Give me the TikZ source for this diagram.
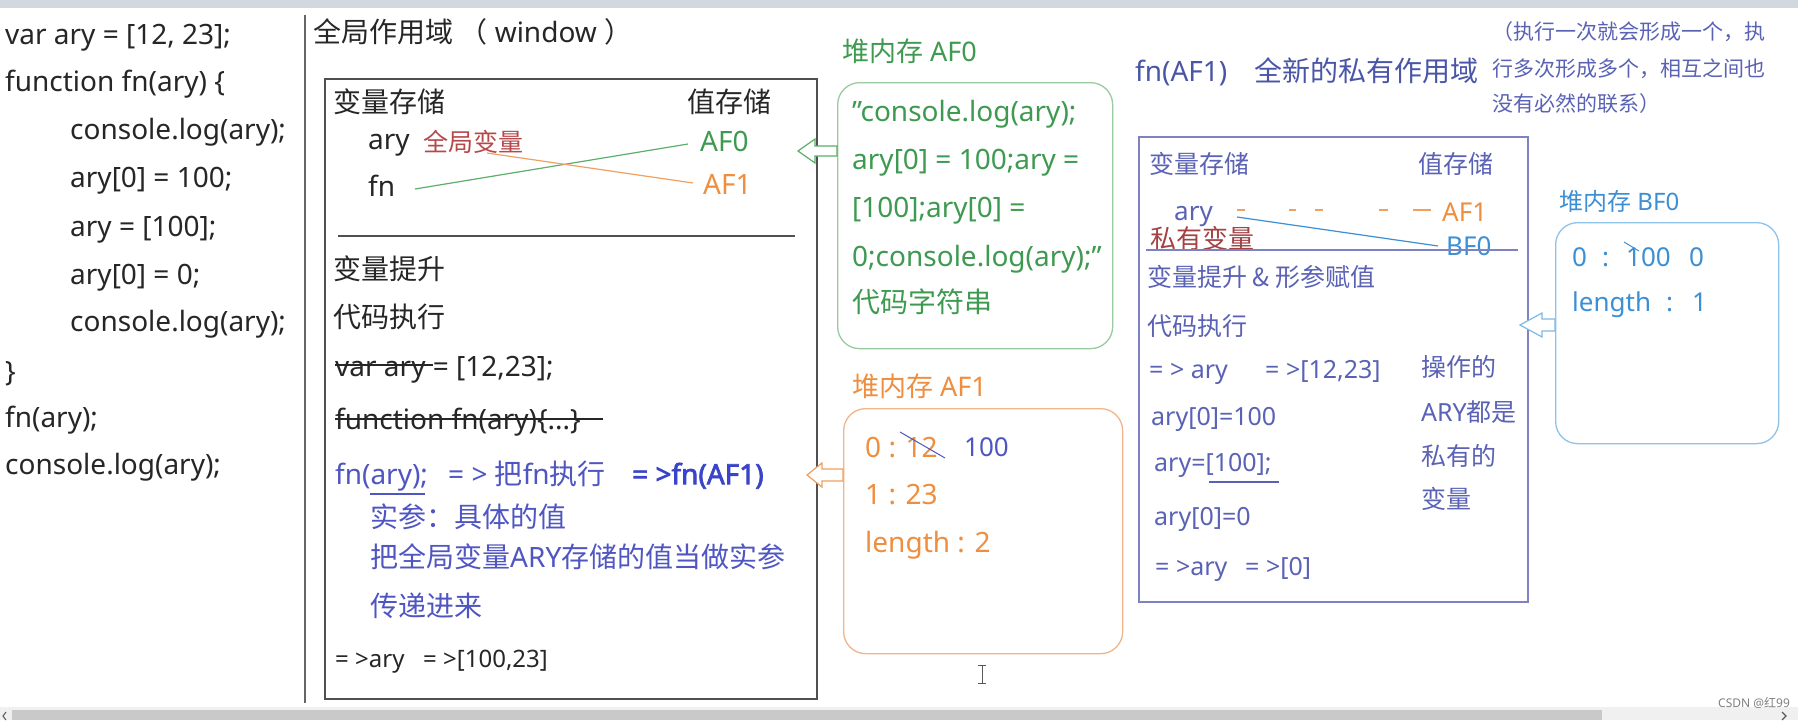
\documentclass[tikz,border=0pt]{standalone}
\usepackage{fontspec}
\setmainfont{Noto Sans}
\newfontfamily\cjkfont{Noto Sans CJK SC}
\newfontfamily\fboldfont[FakeBold=2.5]{Noto Sans}
\newcommand\zh[1]{{\cjkfont #1}}
\definecolor{txtblack}{HTML}{262626}
\definecolor{gborder}{HTML}{505050}
\definecolor{redlabel}{HTML}{B5484A}
\definecolor{greentxt}{HTML}{3E9A50}
\definecolor{greenline}{HTML}{5DAE6B}
\definecolor{greenborder}{HTML}{9ACB9F}
\definecolor{orangetxt}{HTML}{EE8E3E}
\definecolor{orangeline}{HTML}{F0A060}
\definecolor{orangeborder}{HTML}{F2B48A}
\definecolor{bluetxt}{HTML}{4F56C2}
\definecolor{boldblue}{HTML}{3A44C8}
\definecolor{privblue}{HTML}{5A62B5}
\definecolor{privborder}{HTML}{7E82C2}
\definecolor{headblue}{HTML}{4A55A8}
\definecolor{lightblue}{HTML}{3C8FD4}
\definecolor{lbborder}{HTML}{8FC3EA}
\definecolor{topbar}{HTML}{D3D7DF}
\begin{document}
\begin{tikzpicture}[x=1pt,y=-1pt,
  tx/.style={font=\fontsize{#1}{#1}\selectfont,anchor=west,inner sep=0pt,text height=0.83*#1pt,text depth=0.17*#1pt},
  tx/.default=28,
  boxline/.style={draw,inner sep=0pt,anchor=north west},
  hollow/.style={line width=1.2pt,fill=white},
  strike/.style={txtblack,line width=1.2pt}]
\useasboundingbox (0,0) rectangle (1798,720);
\fill[white] (0,0) rectangle (1798,720);
\fill[topbar] (0,0) rectangle (1798,8);

% left code
\begin{scope}[txtblack]
\node[tx] (c1) at (5,35) {var ary = [12, 23];};
\node[tx] (c2) at (5,82) {function fn(ary) \{};
\node[tx] (c3) at (70,130) {console.log(ary);};
\node[tx] (c4) at (70,178) {ary[0] = 100;};
\node[tx] (c5) at (70,227) {ary = [100];};
\node[tx] (c6) at (70,275) {ary[0] = 0;};
\node[tx] (c7) at (70,322) {console.log(ary);};
\node[tx] (c8) at (5,372) {\}};
\node[tx] (c9) at (5,418) {fn(ary);};
\node[tx] (c10) at (5,465) {console.log(ary);};
\end{scope}

\coordinate (divT) at (305,15);
\coordinate (divB) at (305,703);
\draw[gray!80!black,line width=1.6pt] (divT) -- (divB);

% global scope
\node[tx,txtblack] (gtitle) at (313,33) {\zh{全局作用域 （} window \zh{）}};
\node[boxline,draw=gborder,line width=1.8pt,minimum width=492pt,minimum height=620pt] (gbox) at (324,78) {};
\node[tx,txtblack] (gvar) at (333,103) {\zh{变量存储}};
\node[tx,txtblack] (gval) at (687,103) {\zh{值存储}};
\node[tx,txtblack] (gary) at (368,140) {ary};
\node[tx=25,redlabel] (gglob) at (423,143) {\zh{全局变量}};
\node[tx,txtblack] (gfn) at (368,187) {fn};
\node[tx,greentxt] (gaf0) at (700,142) {AF0};
\node[tx,orangetxt] (gaf1) at (703,185) {AF1};
\coordinate (fnR) at (415,189);
\coordinate (af0L) at (688,144);
\coordinate (aryR) at (487,153);
\coordinate (af1L) at (693,183);
\draw[greenline,line width=1.2pt] (fnR) -- (af0L);
\draw[orangeline,line width=1.2pt] (aryR) -- (af1L);
\coordinate (sepL) at (338,236);
\coordinate (sepR) at (795,236);
\draw[gborder,line width=1.1pt] (sepL) -- (sepR);
\node[tx,txtblack] (ghoist) at (333,270) {\zh{变量提升}};
\node[tx,txtblack] (gexec) at (333,318) {\zh{代码执行}};
\node[tx,txtblack] (gl1) at (335,367) {var ary = [12,23];};
\coordinate (s1a) at (335,365); \coordinate (s1b) at (433,365);
\draw[strike] (s1a) -- (s1b);
\node[tx,txtblack] (gl2) at (335,420) {function fn(ary)\{...\}};
\coordinate (s2a) at (335,419); \coordinate (s2b) at (603,419);
\draw[strike] (s2a) -- (s2b);
\node[tx,bluetxt] (gl3) at (335,475) {fn(ary);};
\coordinate (u1a) at (370,494); \coordinate (u1b) at (425,494);
\draw[bluetxt,line width=1.3pt] (u1a) -- (u1b);
\node[tx,bluetxt] (gl3b) at (448,475) {= > \zh{把}fn\zh{执行}};
\node[tx,boldblue,font=\fontsize{28}{28}\fboldfont] (gl3c) at (632,475) {= >fn(AF1)};
\node[tx,bluetxt] (gl4) at (370,518) {\zh{实参：具体的值}};
\node[tx,bluetxt] (gl5) at (370,558) {\zh{把全局变量}ARY\zh{存储的值当做实参}};
\node[tx,bluetxt] (gl6) at (370,607) {\zh{传递进来}};
\node[tx=24,txtblack] (gl7) at (335,660) {= >ary \ \ = >[100,23]};

% heap AF0
\node[tx=27,greentxt] (h0title) at (842,53) {\zh{堆内存} AF0};
\node[boxline,draw=greenborder,line width=1.3pt,rounded corners=22pt,minimum width=275pt,minimum height=266pt] (af0box) at (837,82) {};
\node[tx,greentxt] (h0l1) at (852,112) {"console.log(ary);};
\node[tx,greentxt] (h0l2) at (852,160) {ary[0] = 100;ary =};
\node[tx,greentxt] (h0l3) at (852,208) {[100];ary[0] =};
\node[tx,greentxt] (h0l4) at (852,257) {0;console.log(ary);"};
\node[tx,greentxt] (h0l5) at (852,303) {\zh{代码字符串}};
\draw[greenline,hollow] (798,151) -- (815,139) -- (815,146) -- (837,146) -- (837,156) -- (815,156) -- (815,163) -- cycle;

% heap AF1
\node[tx=27,orangetxt] (h1title) at (852,388) {\zh{堆内存} AF1};
\node[boxline,draw=orangeborder,line width=1.3pt,rounded corners=22pt,minimum width=279pt,minimum height=245pt] (af1box) at (843,408) {};
\node[tx,orangetxt] (h1l1) at (865,448) {0 : 12};
\coordinate (s3a) at (900,432); \coordinate (s3b) at (945,458);
\draw[bluetxt,line width=1pt] (s3a) -- (s3b);
\node[tx=26,bluetxt] (h1new) at (964,448) {100};
\node[tx,orangetxt] (h1l2) at (865,495) {1 : 23};
\node[tx,orangetxt] (h1l3) at (865,543) {length : 2};
\draw[orangeline,hollow] (807,475) -- (822,463) -- (822,469) -- (843,469) -- (843,481) -- (822,481) -- (822,487) -- cycle;

% cursor
\draw[gray!70!black,line width=1pt] (978,665) -- (986,665) (982,665) -- (982,683) (978,683) -- (986,683);

% private scope
\node[tx,headblue] (ptitle) at (1135,72) {fn(AF1)};
\node[tx,headblue] (ptitle2) at (1254,72) {\zh{全新的私有作用域}};
\node[tx=21,privblue] (pnote1) at (1492,33) {\zh{（执行一次就会形成一个，执}};
\node[tx=21,privblue] (pnote2) at (1492,70) {\zh{行多次形成多个，相互之间也}};
\node[tx=21,privblue] (pnote3) at (1492,105) {\zh{没有必然的联系）}};
\node[boxline,draw=privborder,line width=1.5pt,minimum width=389pt,minimum height=465pt] (pbox) at (1138,136) {};
\node[tx=25,privblue] (pvar) at (1149,165) {\zh{变量存储}};
\node[tx=25,privblue] (pval) at (1418,165) {\zh{值存储}};
\node[tx=26,privblue] (pary) at (1174,212) {ary};
\node[tx=26,orangetxt] (paf1) at (1442,213) {AF1};
\node[tx=26,lightblue] (pbf0) at (1446,247) {BF0};
\begin{scope}[orangeline,line width=1.2pt]
\coordinate (pd1a) at (1237,210); \coordinate (pd1b) at (1245,210);
\coordinate (pd2a) at (1289,210); \coordinate (pd2b) at (1296,210);
\coordinate (pd3a) at (1315,210); \coordinate (pd3b) at (1323,210);
\coordinate (pd4a) at (1379,210); \coordinate (pd4b) at (1388,210);
\coordinate (pd5a) at (1413,210); \coordinate (pd5b) at (1431,210);
\draw (pd1a) -- (pd1b) (pd2a) -- (pd2b) (pd3a) -- (pd3b) (pd4a) -- (pd4b) (pd5a) -- (pd5b);
\end{scope}
\coordinate (plA) at (1237,217); \coordinate (plB) at (1438,246);
\draw[lightblue,line width=1.2pt] (plA) -- (plB);
\node[tx=26,redlabel!90!black] (ppriv) at (1150,240) {\zh{私有变量}};
\coordinate (puA) at (1146,250); \coordinate (puB) at (1518,250);
\draw[privborder,line width=1.3pt] (puA) -- (puB);
\node[tx=25,privblue] (phoist) at (1147,278) {\zh{变量提升 \& 形参赋值}};
\node[tx=25,privblue] (pexec) at (1147,327) {\zh{代码执行}};
\node[tx=25,privblue] (pe1) at (1149,370) {= > ary};
\node[tx=25,privblue] (pe1b) at (1265,370) {= >[12,23]};
\node[tx=25,privblue] (pe2) at (1151,417) {ary[0]=100};
\node[tx=25,privblue] (pe3) at (1154,463) {ary=[100];};
\coordinate (pu2A) at (1209,482); \coordinate (pu2B) at (1279,482);
\draw[privblue,line width=1.2pt] (pu2A) -- (pu2B);
\node[tx=25,privblue] (pe4) at (1154,517) {ary[0]=0};
\node[tx=25,privblue] (pe5) at (1155,567) {= >ary};
\node[tx=25,privblue] (pe5b) at (1245,567) {= >[0]};
\node[tx=25,privblue] (pr1) at (1421,368) {\zh{操作的}};
\node[tx=25,privblue] (pr2) at (1421,413) {ARY\zh{都是}};
\node[tx=25,privblue] (pr3) at (1421,457) {\zh{私有的}};
\node[tx=25,privblue] (pr4) at (1421,500) {\zh{变量}};

% heap BF0
\node[tx=24,lightblue] (h2title) at (1559,203) {\zh{堆内存} BF0};
\node[boxline,draw=lbborder,line width=1.3pt,rounded corners=22pt,minimum width=223pt,minimum height=221pt] (bf0box) at (1555,222) {};
\node[tx=26,lightblue] (b1a) at (1572,258) {0};
\node[tx=26,lightblue] (b1b) at (1602,258) {:};
\node[tx=26,lightblue] (b1c) at (1626,258) {100};
\node[tx=26,lightblue] (b1d) at (1689,258) {0};
\coordinate (s4a) at (1624,242); \coordinate (s4b) at (1639,251);
\draw[lightblue,line width=1pt] (s4a) -- (s4b);
\node[tx=26,lightblue] (b2a) at (1572,303) {length};
\node[tx=26,lightblue] (b2b) at (1666,303) {:};
\node[tx=26,lightblue] (b2c) at (1692,303) {1};
\draw[lbborder!80!lightblue,hollow] (1520,325) -- (1542,313) -- (1542,319) -- (1555,319) -- (1555,331) -- (1542,331) -- (1542,337) -- cycle;

% scrollbar
\fill[gray!12] (0,707) rectangle (1798,720);
\fill[gray!42] (12,710) rectangle (1602,720);
\draw[gray!70!black,line width=1pt] (6,712) -- (3,716) -- (6,720);
\draw[gray!70!black,line width=1.2pt] (1782,712) -- (1786,716) -- (1782,720);
\node[tx=12,gray] (wm) at (1718,704) {CSDN @\zh{红}99};
\end{tikzpicture}
\end{document}
